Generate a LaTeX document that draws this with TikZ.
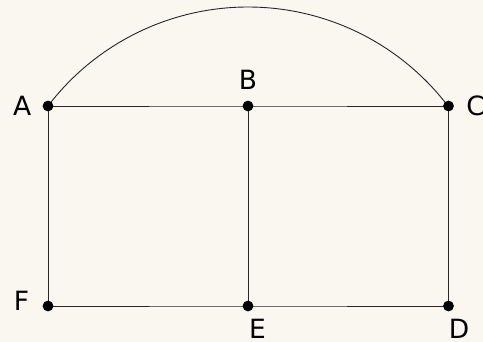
\documentclass[tikz,border=0pt]{standalone}
\usepackage{fontspec}
\setmainfont{DejaVu Sans}
\usetikzlibrary{positioning}
\definecolor{paper}{RGB}{250,247,241}

\begin{document}
\begin{tikzpicture}[
  x=1pt, y=1pt,
  dot/.style={circle, fill=black, inner sep=0pt, minimum size=10.8pt},
  lbl/.style={inner sep=0pt, font=\fontsize{26.5}{30}\selectfont},
  edge/.style={draw=black!85, line width=0.9pt}
]
\useasboundingbox[fill=paper] (0,0) rectangle (483,342);
% points
\coordinate (A) at (48,236);
\coordinate (B) at (248,236);
\coordinate (C) at (448.5,236);
\coordinate (F) at (48,36);
\coordinate (E) at (248,36);
\coordinate (D) at (448.5,36);
% segments and arc
\draw[edge] (A) -- (B) -- (C) -- (D) -- (E) -- (F) -- (A);
\draw[edge] (B) -- (E);
\draw[edge] (A) arc[start angle=142.67, end angle=37.33, radius=251.5];
% dots
\node[dot] (pA) at (A) {};
\node[dot] (pB) at (B) {};
\node[dot] (pC) at (C) {};
\node[dot] (pF) at (F) {};
\node[dot] (pE) at (E) {};
\node[dot] (pD) at (D) {};
% labels
\node[lbl, left=11pt of pA] (lA) {A};
\node[lbl, above=11pt of pB] (lB) {B};
\node[lbl, right=12pt of pC] (lC) {C};
\node[lbl, left=13pt of pF, yshift=5pt] (lF) {F};
\node[lbl, below=7pt of pE, xshift=9.5pt] (lE) {E};
\node[lbl, below=7pt of pD, xshift=10.5pt] (lD) {D};
\end{tikzpicture}
\end{document}
